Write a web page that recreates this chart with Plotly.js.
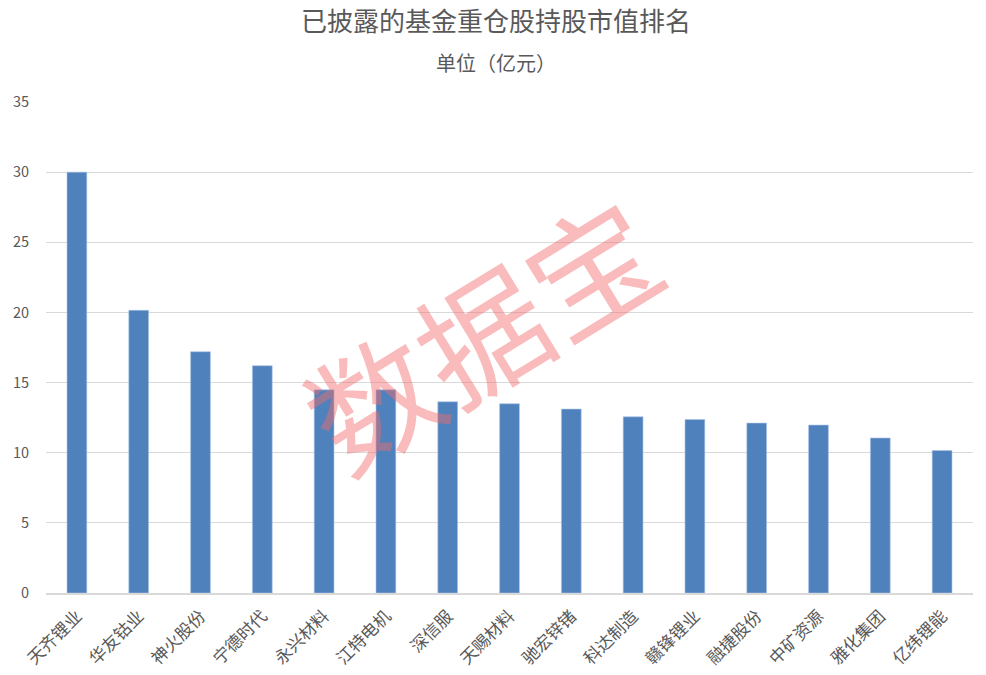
<!DOCTYPE html>
<html>
<head>
<meta charset="utf-8">
<script src="https://cdn.plot.ly/plotly-3.0.1.min.js"></script>
<style>html,body{margin:0;padding:0;background:#fff;}#chart{width:986px;height:675px;}</style>
</head>
<body>
<div id="chart"></div>
<script>
var categories = ["天齐锂业","华友钴业","神火股份","宁德时代","永兴材料","江特电机","深信服","天赐材料","驰宏锌锗","科达制造","赣锋锂业","融捷股份","中矿资源","雅化集团","亿纬锂能"];
var values = [30.0, 20.15, 17.2, 16.2, 14.48, 14.48, 13.63, 13.49, 13.11, 12.56, 12.37, 12.11, 11.97, 11.05, 10.16];
var yTicks = [0, 5, 10, 15, 20, 25, 30, 35];
var titleText = "已披露的基金重仓股持股市值排名";
var subtitleText = "单位（亿元）";
var watermark = "数据宝";

var font = "'Noto Sans CJK SC', 'Noto Sans', sans-serif";
var trace = {
  type: "bar",
  x: categories,
  y: values,
  marker: {color: "#4f81bd", line: {color: "#a9c4e6", width: 0.6}},
  hoverinfo: "x+y"
};
var layout = {
  width: 986, height: 675,
  margin: {l: 46, r: 13, t: 101.5, b: 81.5},
  paper_bgcolor: "#fff", plot_bgcolor: "#fff",
  bargap: 0.68,
  showlegend: false,
  font: {family: font, color: "#595959"},
  xaxis: {
    type: "category",
    tickangle: -45,
    tickfont: {size: 17, color: "#595959", family: font},
    showgrid: false,
    showline: true, linecolor: "#d9d9d9", linewidth: 1.5,
    ticks: "", ticklabelstandoff: 5, fixedrange: true
  },
  yaxis: {
    range: [0, 35],
    tickvals: yTicks,
    ticktext: yTicks.map(String),
    tickfont: {size: 14.5, color: "#595959", family: font},
    showgrid: true, gridcolor: "#d9d9d9", gridwidth: 1.2,
    zeroline: false, showline: false,
    ticks: "", ticklabelstandoff: 16, fixedrange: true
  },
  annotations: [
    {text: titleText, xref: "paper", yref: "paper", x: 0.485, y: 1, yshift: 83, xanchor: "center", yanchor: "middle", showarrow: false, font: {size: 26, color: "#595959", family: font}},
    {text: subtitleText, xref: "paper", yref: "paper", x: 0.485, y: 1, yshift: 40, xanchor: "center", yanchor: "middle", showarrow: false, font: {size: 20, color: "#595959", family: font}},
    {text: watermark, xref: "paper", yref: "paper", x: 0.468, y: 0.535, xanchor: "center", yanchor: "middle", showarrow: false, textangle: -31.5, opacity: 0.45, font: {size: 128, color: "#f26b6b", family: font}}
  ]
};
Plotly.newPlot("chart", [trace], layout, {displayModeBar: false, staticPlot: true});
</script>
</body>
</html>
